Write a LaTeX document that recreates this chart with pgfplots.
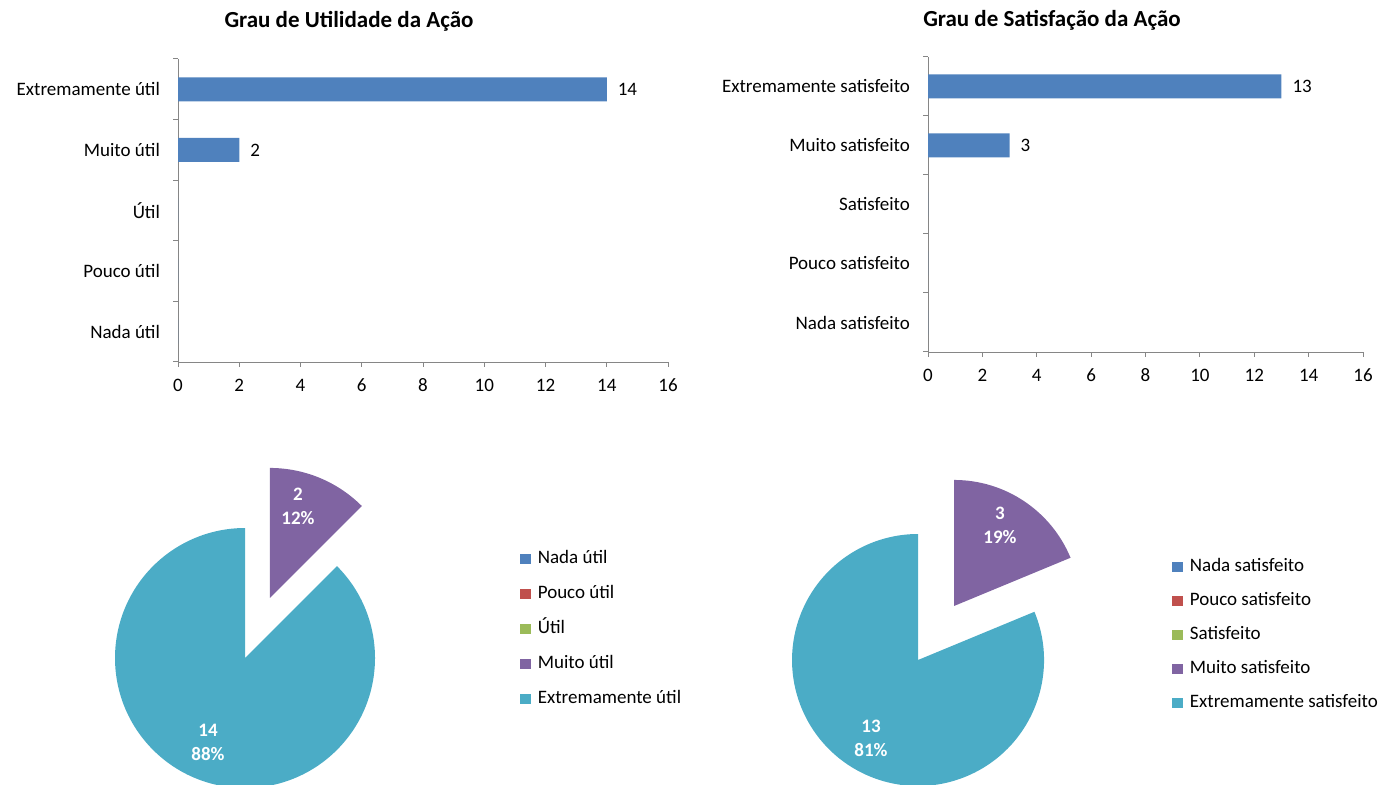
\documentclass[border=0pt]{standalone}
\usepackage{pgfplots}
\pgfplotsset{compat=1.18}
\usepackage{fontspec}
\setmainfont{Carlito}
\definecolor{cblue}{HTML}{4F81BD}
\definecolor{cred}{HTML}{C0504D}
\definecolor{cgreen}{HTML}{9BBB59}
\definecolor{cpurple}{HTML}{8064A2}
\definecolor{cteal}{HTML}{4BACC6}
\definecolor{axgray}{HTML}{868686}
\newcommand{\lbl}{\fontsize{9.5}{11}\selectfont}
% data: Nada, Pouco, (Util/Satisfeito), Muito, Extremamente
\def\uNada{0}\def\uPouco{0}\def\uUtil{0}\def\uMuito{2}\def\uExt{14}
\def\sNada{0}\def\sPouco{0}\def\sSat{0}\def\sMuito{3}\def\sExt{13}
\pgfmathsetmacro\uT{\uNada+\uPouco+\uUtil+\uMuito+\uExt}
\pgfmathsetmacro\uA{90-360*(\uNada+\uPouco+\uUtil+\uMuito)/\uT}
\pgfmathsetmacro\uM{90-360*(\uNada+\uPouco+\uUtil+\uMuito/2)/\uT}
\pgfmathsetmacro\sT{\sNada+\sPouco+\sSat+\sMuito+\sExt}
\pgfmathsetmacro\sA{90-360*(\sNada+\sPouco+\sSat+\sMuito)/\sT}
\pgfmathsetmacro\sM{90-360*(\sNada+\sPouco+\sSat+\sMuito/2)/\sT}
\pgfplotsset{
  barax/.style={
    scale only axis,
    xmin=0, xmax=16, ymin=0.5, ymax=5.5,
    axis lines*=left,
    axis line style={draw=axgray},
    tick style={draw=axgray, line width=0.5pt},
    tick align=outside,
    major tick length=2.5pt,
    xtick={0,2,...,16},
    ytick={0.5,1.5,...,5.5}, yticklabels={},
    extra y ticks={1,2,3,4,5},
    extra y tick style={major tick length=0pt},
    /pgf/number format/assume math mode=true,
    tick label style={font=\lbl},
    xticklabel style={yshift=-2pt, text height=6.5pt, text depth=0pt},
    yticklabel style={xshift=-5.5pt},
    clip=false,
  },
  barplot/.style={
    xbar, bar width=12pt, fill=cblue, draw=none,
    point meta=x,
    nodes near coords={\pgfmathfloatifflags{\pgfplotspointmeta}{0}{}{\pgfmathprintnumber{\pgfplotspointmeta}}},
    every node near coord/.append style={font=\lbl, anchor=west, xshift=2pt},
  },
  pieax/.style={
    x=0.5pt, y=0.5pt, xmin=0, xmax=1390, ymin=-785, ymax=0,
    hide axis, clip=false, at={(0pt,0pt)}, anchor=north west,
    legend cell align=left,
    legend image code/.code={\fill[##1, draw=none] (0pt,-2.6pt) rectangle (5.2pt,2.6pt);},
  },
}
\begin{document}
\begin{tikzpicture}
\path[use as bounding box] (0pt,0pt) rectangle (695pt,-392.5pt);
\node[font=\fontsize{11.5}{13}\selectfont\bfseries] at (174.5pt,-10.5pt) {Grau de Utilidade da Ação};
\node[font=\fontsize{11.5}{13}\selectfont\bfseries] at (526pt,-10pt) {Grau de Satisfação da Ação};
% bar chart 1
\begin{axis}[barax, at={(89pt,-181pt)}, anchor=south west, width=245pt, height=151.5pt,
  extra y tick labels={Nada útil,Pouco útil,Útil,Muito útil,Extremamente útil}]
\addplot[barplot] coordinates {(0,1) (0,2) (0,3) (2,4) (14,5)};
\end{axis}
% bar chart 2
\begin{axis}[barax, at={(464pt,-176pt)}, anchor=south west, width=217.5pt, height=147.5pt,
  extra y tick labels={Nada satisfeito,Pouco satisfeito,Satisfeito,Muito satisfeito,Extremamente satisfeito}]
\addplot[barplot] coordinates {(0,1) (0,2) (0,3) (3,4) (13,5)};
\end{axis}
% pie 1
\begin{axis}[pieax, legend style={draw=none, fill=none, inner sep=0pt, at={(0.3741,0.3025)}, anchor=north west, font=\lbl, row sep=6.5pt, nodes={inner sep=1pt, text height=7pt, text depth=2pt}, /tikz/every odd column/.append style={column sep=2.5pt}}]
\fill[cteal] (axis cs:245,-658) -- +(\uA:65pt) arc[start angle=\uA, end angle=-270, radius=65pt] -- cycle;
\fill[cpurple] ([shift={(\uM:32.5pt)}]axis cs:245,-658) -- +(90:65pt) arc[start angle=90, end angle=\uA, radius=65pt] -- cycle;
\node[white, font=\fontsize{9.5}{12}\selectfont\bfseries, align=center] at (axis cs:298,-506) {2\\12\%};
\node[white, font=\fontsize{9.5}{12}\selectfont\bfseries, align=center] at (axis cs:208,-742) {14\\88\%};
\addlegendimage{fill=cblue}\addlegendentry{Nada útil}
\addlegendimage{fill=cred}\addlegendentry{Pouco útil}
\addlegendimage{fill=cgreen}\addlegendentry{Útil}
\addlegendimage{fill=cpurple}\addlegendentry{Muito útil}
\addlegendimage{fill=cteal}\addlegendentry{Extremamente útil}
\end{axis}
% pie 2
\begin{axis}[pieax, legend style={draw=none, fill=none, inner sep=0pt, at={(0.8432,0.2924)}, anchor=north west, font=\lbl, row sep=6pt, nodes={inner sep=1pt, text height=7pt, text depth=2pt}, /tikz/every odd column/.append style={column sep=2.5pt}}]
\fill[cteal] (axis cs:918,-660) -- +(\sA:63pt) arc[start angle=\sA, end angle=-270, radius=63pt] -- cycle;
\fill[cpurple] ([shift={(\sM:32.5pt)}]axis cs:918,-660) -- +(90:63pt) arc[start angle=90, end angle=\sA, radius=63pt] -- cycle;
\node[white, font=\fontsize{9.5}{12}\selectfont\bfseries, align=center] at (axis cs:1000,-525) {3\\19\%};
\node[white, font=\fontsize{9.5}{12}\selectfont\bfseries, align=center] at (axis cs:871,-738) {13\\81\%};
\addlegendimage{fill=cblue}\addlegendentry{Nada satisfeito}
\addlegendimage{fill=cred}\addlegendentry{Pouco satisfeito}
\addlegendimage{fill=cgreen}\addlegendentry{Satisfeito}
\addlegendimage{fill=cpurple}\addlegendentry{Muito satisfeito}
\addlegendimage{fill=cteal}\addlegendentry{Extremamente satisfeito}
\end{axis}
\end{tikzpicture}
\end{document}
